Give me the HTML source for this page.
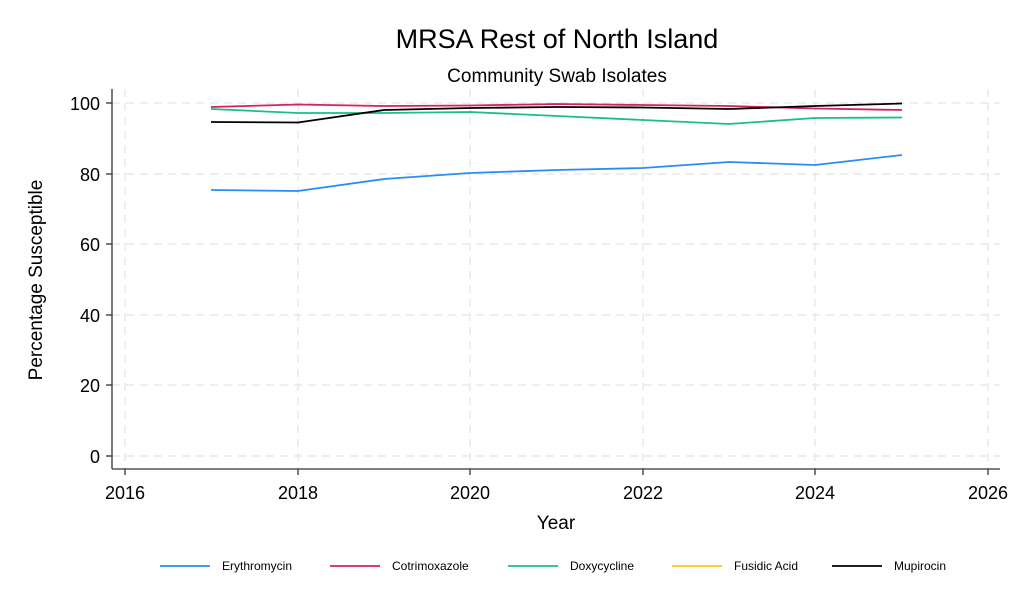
<!DOCTYPE html>
<html><head><meta charset="utf-8"><style>body{margin:0;background:#fff}svg{display:block}text{font-family:"Liberation Sans",Arial,sans-serif;fill:#000}</style></head>
<body>
<svg width="1024" height="614" viewBox="0 0 1024 614">
<rect width="1024" height="614" fill="#fff"/>
<text x="557" y="48" font-size="27" text-anchor="middle">MRSA Rest of North Island</text>
<text x="557" y="82" font-size="19" text-anchor="middle">Community Swab Isolates</text>
<g stroke="#e8e8e8" stroke-width="1.5" stroke-dasharray="8,6" fill="none">
<line x1="125" y1="89" x2="125" y2="469"/><line x1="298" y1="89" x2="298" y2="469"/><line x1="470" y1="89" x2="470" y2="469"/><line x1="643" y1="89" x2="643" y2="469"/><line x1="815" y1="89" x2="815" y2="469"/><line x1="988" y1="89" x2="988" y2="469"/>
<line x1="112" y1="103" x2="1000" y2="103"/><line x1="112" y1="174" x2="1000" y2="174"/><line x1="112" y1="244" x2="1000" y2="244"/><line x1="112" y1="315" x2="1000" y2="315"/><line x1="112" y1="385" x2="1000" y2="385"/><line x1="112" y1="456" x2="1000" y2="456"/>
</g>
<g stroke="#333" stroke-width="1.3">
<line x1="112" y1="89" x2="112" y2="469"/><line x1="112" y1="469" x2="1000" y2="469"/>
<line x1="106" y1="103" x2="112" y2="103"/><line x1="106" y1="174" x2="112" y2="174"/><line x1="106" y1="244" x2="112" y2="244"/><line x1="106" y1="315" x2="112" y2="315"/><line x1="106" y1="385" x2="112" y2="385"/><line x1="106" y1="456" x2="112" y2="456"/>
<line x1="125" y1="469" x2="125" y2="475"/><line x1="298" y1="469" x2="298" y2="475"/><line x1="470" y1="469" x2="470" y2="475"/><line x1="643" y1="469" x2="643" y2="475"/><line x1="815" y1="469" x2="815" y2="475"/><line x1="988" y1="469" x2="988" y2="475"/>
</g>
<g font-size="18" text-anchor="end">
<text x="100" y="110">100</text><text x="100" y="181">80</text><text x="100" y="251">60</text><text x="100" y="322">40</text><text x="100" y="392">20</text><text x="100" y="463">0</text>
</g>
<g font-size="18" text-anchor="middle">
<text x="125" y="499">2016</text><text x="298" y="499">2018</text><text x="470" y="499">2020</text><text x="643" y="499">2022</text><text x="815" y="499">2024</text><text x="988" y="499">2026</text>
</g>
<text x="556" y="529" font-size="19" text-anchor="middle">Year</text>
<text transform="translate(42,280) rotate(-90)" font-size="19" text-anchor="middle">Percentage Susceptible</text>
<g fill="none" stroke-width="1.8">
<polyline stroke="#2a8cf5" points="211,190 298,191 384,179 470,173 557,170 643,168 729,162 815,165 902,155"/>
<polyline stroke="#d5215e" points="211,107 298,104.5 384,106 470,105.5 557,104 643,105 729,106 815,108.5 902,110"/>
<polyline stroke="#1bbf84" points="211,109 298,113 384,113 470,112 557,116 643,120 729,124 815,118 902,117.5"/>
<polyline stroke="#000" points="211,122 298,122.5 384,110 470,108 557,107 643,107.5 729,109 815,106 902,103.5"/>
</g>
<g stroke-width="1.8">
<line x1="160" y1="566" x2="210" y2="566" stroke="#2a8cf5"/>
<line x1="330" y1="566" x2="380" y2="566" stroke="#d5215e"/>
<line x1="508" y1="566" x2="558" y2="566" stroke="#1bbf84"/>
<line x1="672" y1="566" x2="722" y2="566" stroke="#f5c518"/>
<line x1="832" y1="566" x2="882" y2="566" stroke="#000"/>
</g>
<g font-size="12">
<text x="222" y="570">Erythromycin</text><text x="392" y="570">Cotrimoxazole</text><text x="570" y="570">Doxycycline</text><text x="734" y="570">Fusidic Acid</text><text x="894" y="570">Mupirocin</text>
</g>
</svg>
</body></html>
